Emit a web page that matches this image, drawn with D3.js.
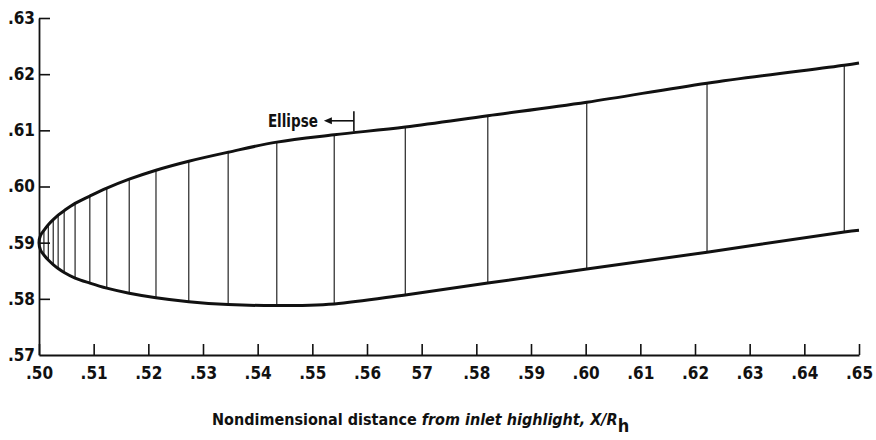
<!DOCTYPE html>
<html>
<head>
<meta charset="utf-8">
<script src="https://cdn.jsdelivr.net/npm/d3@7/dist/d3.min.js"></script>
<style>
  html, body { margin: 0; padding: 0; background: #fff; }
  svg { display: block; }
  text { font-family: "Liberation Sans Narrow", "DejaVu Sans Condensed", "Liberation Sans", sans-serif; font-weight: bold; fill: #111; }
</style>
</head>
<body>
<svg id="chart" width="876" height="440"></svg>
<script>
// ---- data ----
const xTickValues = [0.50, 0.51, 0.52, 0.53, 0.54, 0.55, 0.56, 0.57, 0.58, 0.59, 0.60, 0.61, 0.62, 0.63, 0.64, 0.65];
const xTickLabels = [".50", ".51", ".52", ".53", ".54", ".55", ".56", "57", ".58", ".59", ".60", ".61", ".62", ".63", ".64", ".65"];
const yTickValues = [0.57, 0.58, 0.59, 0.60, 0.61, 0.62, 0.63];
const yTickLabels = [".57", ".58", ".59", ".60", ".61", ".62", ".63"];

// leading point (nose), points just behind the nose, and trailing point of the contour
const noseX = 0.500, noseY = 0.590;
const nearNoseX = 0.50028, nearNoseUpper = 0.5913, nearNoseLower = 0.5887;
const endX = 0.650, endUpper = 0.6220, endLower = 0.5922;

// stations (vertical lines) and contour values
const stationX = [0.5009, 0.5017, 0.5026, 0.5035, 0.5046, 0.5066, 0.5093, 0.5124, 0.5165, 0.5214,
                  0.5274, 0.5346, 0.5435, 0.5540, 0.5670, 0.5821, 0.6002, 0.6222, 0.6473];
const upperY   = [0.5922, 0.5932, 0.5941, 0.5949, 0.5957, 0.5970, 0.5983, 0.5997, 0.6013, 0.6029,
                  0.6045, 0.6061, 0.6079, 0.6092, 0.6106, 0.6126, 0.6150, 0.6184, 0.6216];
const lowerY   = [0.5878, 0.5869, 0.5861, 0.5854, 0.5847, 0.5837, 0.5828, 0.5819, 0.5810, 0.5802,
                  0.5795, 0.5790, 0.5788, 0.5791, 0.5807, 0.5828, 0.5853, 0.5883, 0.5919];

// "Ellipse" annotation: end of elliptical section
const ellipseLabel = "Ellipse";
const ellipseEndX = 0.5576;
const ellipseArrowY = 0.6117, ellipseBarTop = 0.6134, ellipseBarBottom = 0.6098;

const xTitle = ["Nondimensional distance ", "from inlet highlight, ", "X/R", "h"];

// ---- chart ----
const svg = d3.select("#chart");
const x = d3.scaleLinear().domain([0.50, 0.65]).range([39, 859]);
const y = d3.scaleLinear().domain([0.57, 0.63]).range([355, 18]);

// axes
const xAxis = d3.axisBottom(x)
  .tickValues(xTickValues)
  .tickFormat((d, i) => xTickLabels[i])
  .tickSizeInner(-11).tickSizeOuter(0).tickPadding(12);
const gx = svg.append("g").attr("transform", `translate(0,${y(0.57)})`).call(xAxis);
gx.select(".domain").attr("stroke", "#111").attr("stroke-width", 1.8);
gx.selectAll(".tick line").attr("stroke", "#111").attr("stroke-width", 1.6);
gx.selectAll(".tick text").attr("font-size", 17).attr("fill", "#111");

const yAxis = d3.axisLeft(y)
  .tickValues(yTickValues)
  .tickFormat((d, i) => yTickLabels[i])
  .tickSizeInner(-11).tickSizeOuter(0).tickPadding(4);
const gy = svg.append("g").attr("transform", `translate(${x(0.50)},0)`).call(yAxis);
gy.select(".domain").attr("stroke", "#111").attr("stroke-width", 1.8);
gy.selectAll(".tick line").attr("stroke", "#111").attr("stroke-width", 1.6);
gy.selectAll(".tick text").attr("font-size", 17).attr("fill", "#111");
gy.selectAll(".tick").filter(d => d === 0.57).select("line").remove();

svg.selectAll(".tick text").attr("font-family", null);

// station lines
svg.append("g").selectAll("line").data(stationX).join("line")
  .attr("x1", d => x(d)).attr("x2", d => x(d))
  .attr("y1", (d, i) => y(upperY[i])).attr("y2", (d, i) => y(lowerY[i]))
  .attr("stroke", "#111").attr("stroke-width", 1.1);

// contour outline
const pts = [];
pts.push([endX, endUpper]);
for (let i = stationX.length - 1; i >= 0; i--) pts.push([stationX[i], upperY[i]]);
pts.push([nearNoseX, nearNoseUpper]);
pts.push([noseX, noseY]);
pts.push([nearNoseX, nearNoseLower]);
for (let i = 0; i < stationX.length; i++) pts.push([stationX[i], lowerY[i]]);
pts.push([endX, endLower]);

const line = d3.line().x(d => x(d[0])).y(d => y(d[1])).curve(d3.curveCatmullRom.alpha(0.5));
svg.append("path").attr("d", line(pts))
  .attr("fill", "none").attr("stroke", "#111").attr("stroke-width", 3).attr("stroke-linejoin", "round");

// Ellipse annotation
const ax = x(ellipseEndX);
const ay = y(ellipseArrowY);
svg.append("line").attr("x1", ax).attr("x2", ax).attr("y1", y(ellipseBarTop)).attr("y2", y(ellipseBarBottom))
  .attr("stroke", "#111").attr("stroke-width", 1.6);
svg.append("line").attr("x1", ax - 27).attr("x2", ax).attr("y1", ay).attr("y2", ay)
  .attr("stroke", "#111").attr("stroke-width", 1.6);
svg.append("path").attr("d", `M${ax - 30},${ay} L${ax - 22},${ay - 3.5} L${ax - 22},${ay + 3.5} Z`).attr("fill", "#111");
svg.append("text").attr("x", ax - 86).attr("y", ay + 6)
  .attr("font-size", 17).attr("textLength", 50).attr("lengthAdjust", "spacingAndGlyphs").text(ellipseLabel);

// x-axis title
const t = svg.append("text").attr("x", 212).attr("y", 425).attr("font-size", 16);
t.append("tspan").text(xTitle[0]);
t.append("tspan").attr("font-style", "italic").text(xTitle[1]);
t.append("tspan").attr("font-style", "italic").text(xTitle[2]);
t.append("tspan").attr("dy", 7).attr("font-size", 18).text(xTitle[3]);
</script>
</body>
</html>
